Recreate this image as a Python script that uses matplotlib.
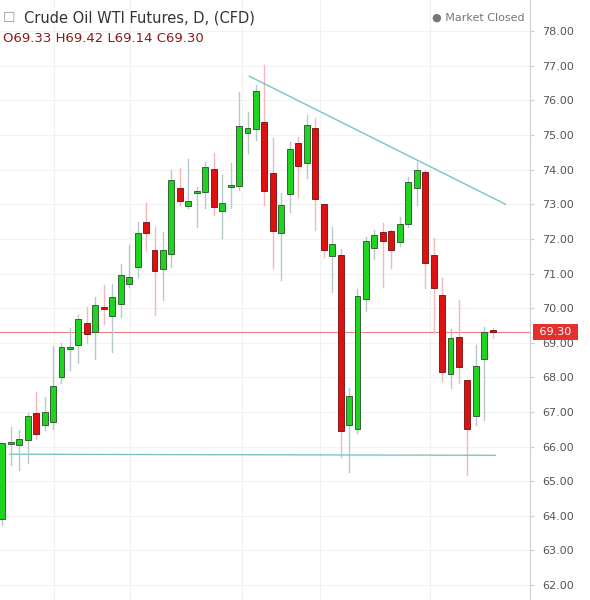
import matplotlib
matplotlib.use("Agg")
import matplotlib.pyplot as plt
from matplotlib.patches import Rectangle

opens = [63.91,66.08,66.04,66.19,66.97,66.62,66.71,68.0,68.82,68.93,69.57,69.31,70.03,69.77,70.12,70.69,71.18,72.48,71.67,71.13,71.55,73.47,72.95,73.32,73.35,74.01,72.8,73.49,73.52,75.05,
         75.17,75.37,73.9,72.17,73.29,74.77,74.19,75.2,73.0,71.5,71.53,66.62,66.5,70.26,71.73,72.2,72.22,71.9,72.43,73.47,73.93,71.53,70.37,68.09,69.16,67.92,66.88,68.53,69.33]
closes = [66.1,66.12,66.23,66.88,66.36,67.0,67.75,68.87,68.84,69.68,69.25,70.09,69.97,70.32,70.95,70.9,72.17,72.17,71.07,71.67,73.7,73.1,73.1,73.34,74.07,72.92,73.03,73.51,75.26,75.2,
          76.27,73.38,72.22,72.97,74.59,74.1,75.28,73.15,71.67,71.85,66.45,67.46,70.34,71.93,72.11,71.93,71.67,72.43,73.64,73.99,71.3,70.58,68.15,69.13,68.3,66.5,68.32,69.31,69.30]
highs = [66.1,66.56,66.48,66.97,67.57,67.43,68.9,69.0,69.42,69.8,70.03,70.32,70.66,70.69,71.27,71.82,72.49,73.03,72.34,72.2,73.99,74.04,74.3,73.5,74.22,74.48,73.84,74.19,76.24,75.66,
         76.44,77.02,74.9,73.32,74.8,74.94,75.57,75.49,73.0,72.34,71.7,67.69,70.55,72.05,72.25,72.45,72.25,72.63,73.78,74.22,73.95,72.02,70.87,69.39,70.23,67.92,68.93,69.45,69.42]
lows = [63.73,65.47,65.32,65.52,66.22,66.48,66.5,67.83,68.2,68.41,68.99,68.53,69.54,68.73,69.74,70.6,70.9,71.64,69.8,70.23,71.18,72.97,72.9,72.34,72.9,72.69,72.02,72.89,73.4,74.48,
        74.85,72.97,71.15,70.8,72.77,73.2,73.75,72.25,71.47,70.46,65.7,65.26,66.4,69.91,71.41,70.61,71.15,71.8,72.35,72.97,70.58,69.28,67.89,67.69,67.83,65.18,66.62,66.77,69.14]
yticks = [62,63,64,65,66,67,68,69,70,71,72,73,74,75,76,77,78]
last_price = 69.30
resist = ([29.2, 59.5], [76.70, 73.0])
support = ([0.9, 58.3], [65.78, 65.75])
vgrid = [6.1, 15.1, 28.4, 37.6, 50.6]

fig = plt.figure(figsize=(5.9, 6), dpi=100)
ax = fig.add_axes([0, 0, 530/590, 1])
ax.set_xlim(-0.27, 62.4)
ax.set_ylim(61.57, 78.9)
for y in yticks:
    ax.axhline(y, color="#f2f2f2", lw=0.8, zorder=0)
for xv in vgrid:
    ax.axvline(xv, color="#f0f0f0", lw=0.8, zorder=0)

green, red = "#1ed41e", "#e01010"
for i, (o, c, h, l) in enumerate(zip(opens, closes, highs, lows)):
    up = c >= o
    wc = "#b8c8cc" if up else "#f4b8bc"
    ax.plot([i, i], [l, h], color=wc, lw=1, zorder=1)
    lo, hi = min(o, c), max(o, c)
    hh = max(hi - lo, 0.06)
    ax.add_patch(Rectangle((i - 0.35, lo), 0.7, hh, facecolor=green if up else red,
                           edgecolor="#2a4a2a" if up else "#6a1010", lw=0.6, zorder=2))

ax.plot(*resist, color="#7cc4c4", lw=1, zorder=3)
ax.plot(*support, color="#7cc4c4", lw=1, zorder=3)
ax.axhline(last_price, color="#f08080", lw=0.8, zorder=0.5)

ax.set_xticks([])
ax.yaxis.tick_right()
ax.set_yticks(yticks)
ax.set_yticklabels([f"{v:.2f}" for v in yticks], fontsize=8, color="#555555")
ax.tick_params(axis="y", length=3, color="#cccccc", pad=6)
for s in ["top", "left", "bottom"]:
    ax.spines[s].set_visible(False)
ax.spines["right"].set_color("#cccccc")

fig.text(536/590, 1 - 332/600, " 69.30 ", fontsize=8, color="white", va="center", ha="left",
         bbox=dict(boxstyle="square,pad=0.25", fc="#e53030", ec="none"))

fig.text(0.04, 1 - 18/600, "Crude Oil WTI Futures, D, (CFD)", fontsize=10.5, color="#333333", va="center")
fig.text(0.005, 1 - 39/600, "O69.33 H69.42 L69.14 C69.30", fontsize=9.5, color="#8b1a1a", va="center")
fig.text(0.005, 1 - 18/600, "\u2610", fontsize=10, color="#999999", va="center")
fig.text(0.89, 1 - 18/600, "\u25cf Market Closed", fontsize=8, color="#777777", va="center", ha="right")

fig.savefig("out.png", dpi=100, facecolor="white")
